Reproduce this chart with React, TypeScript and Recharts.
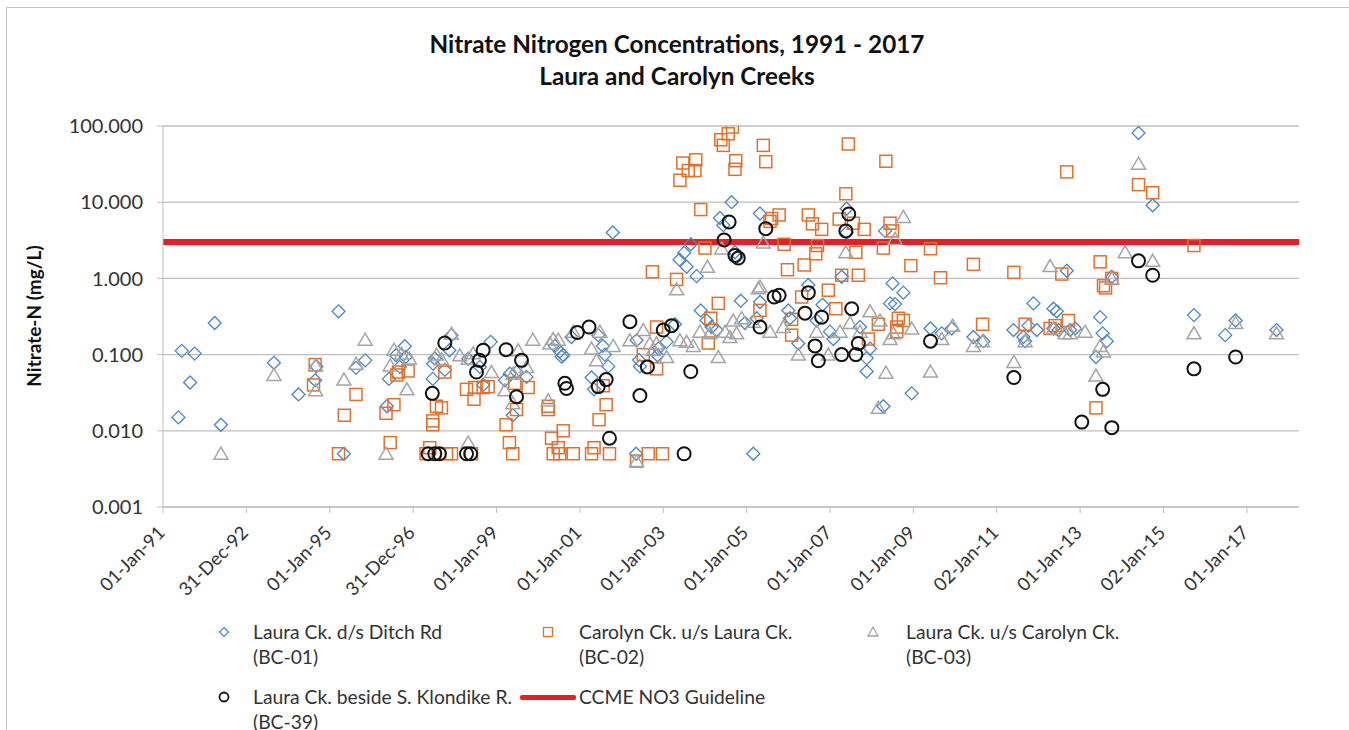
import { ScatterChart, Scatter, XAxis, YAxis, CartesianGrid, ReferenceLine } from 'recharts';

const xTicks = [1991, 1993, 1995, 1997, 1999, 2001, 2003, 2005, 2007, 2009, 2011, 2013, 2015, 2017];
const xTickLabels = ['01-Jan-91', '31-Dec-92', '01-Jan-95', '31-Dec-96', '01-Jan-99', '01-Jan-01', '01-Jan-03',
    '01-Jan-05', '01-Jan-07', '01-Jan-09', '02-Jan-11', '01-Jan-13', '02-Jan-15', '01-Jan-17'];
const yTicks = [0.001, 0.01, 0.1, 1, 10, 100];
const ccmeGuideline = 3.0;

// [decimal year, nitrate-N mg/L]
const bc01: [number, number][] = [
    [1991.37, 0.015], [1991.45, 0.112], [1991.65, 0.043], [1991.76, 0.103], [1992.24, 0.26], [1992.39, 0.012],
    [1993.66, 0.078], [1994.25, 0.03], [1994.65, 0.046], [1994.68, 0.07], [1995.21, 0.37], [1995.34, 0.005],
    [1995.63, 0.067], [1995.85, 0.084], [1996.37, 0.021], [1996.42, 0.048], [1996.8, 0.129], [1996.59, 0.098],
    [1996.82, 0.093], [1996.68, 0.069], [1997.48, 0.076], [1997.52, 0.089], [1997.47, 0.048], [1997.76, 0.063],
    [1997.87, 0.114], [1997.92, 0.18], [1998.32, 0.088], [1998.86, 0.147], [1998.6, 0.069], [1998.68, 0.04],
    [1999.39, 0.016], [1999.32, 0.056], [1999.2, 0.046], [1999.48, 0.059], [1999.72, 0.051], [2000.4, 0.13],
    [2000.52, 0.11], [2000.6, 0.098], [2000.56, 0.094], [2000.8, 0.17], [2001.44, 0.18], [2001.55, 0.13],
    [2001.6, 0.1], [2001.68, 0.07], [2001.28, 0.05], [2001.34, 0.035], [2001.79, 4.0], [2003.66, 2.8],
    [2003.5, 2.16], [2003.39, 1.76], [2003.56, 1.42], [2003.8, 1.07], [2004.64, 10], [2004.36, 6.2],
    [2004.44, 5.0], [2004.72, 2.2], [2004.76, 1.9], [2004.86, 0.51], [2003.9, 0.38], [2002.36, 0.154],
    [2002.44, 0.07], [2002.35, 0.005], [2002.86, 0.098], [2003.08, 0.147], [2003.28, 0.25], [2004.04, 0.28],
    [2004.16, 0.23], [2004.28, 0.21], [2004.96, 0.26], [2005.24, 0.3], [2005.16, 0.005], [2002.42, 0.085],
    [2002.88, 0.12], [2005.32, 7.1], [2007.4, 8.2], [2007.4, 4.0], [2008.32, 4.2], [2007.28, 1.05],
    [2008.5, 0.86], [2008.44, 0.47], [2008.56, 0.46], [2005.32, 0.49], [2006.48, 0.82], [2006.82, 0.45],
    [2006.0, 0.38], [2006.24, 0.14], [2007.88, 0.09], [2007.96, 0.12], [2007.88, 0.06], [2008.28, 0.021],
    [2007.08, 0.16], [2007.0, 0.2], [2006.04, 0.3], [2006.68, 0.28], [2007.72, 0.23],
    [2008.76, 0.65], [2009.41, 0.22], [2009.68, 0.19], [2009.92, 0.22], [2010.44, 0.17], [2010.68, 0.15],
    [2011.4, 0.21], [2011.64, 0.17], [2011.68, 0.15], [2011.76, 0.24], [2011.96, 0.21], [2011.88, 0.47],
    [2012.36, 0.4], [2012.44, 0.37], [2008.96, 0.031], [2012.68, 1.26], [2012.36, 0.22], [2012.48, 0.21],
    [2014.4, 81], [2014.74, 9.1], [2013.48, 0.31], [2013.54, 0.19], [2013.64, 0.15], [2013.38, 0.093],
    [2013.76, 1.05], [2015.73, 0.33], [2016.73, 0.28], [2016.48, 0.18], [2017.71, 0.21], [2012.76, 0.21],
    [2012.88, 0.22],
];

const bc02: [number, number][] = [
    [1994.65, 0.074], [1994.61, 0.04], [1995.21, 0.005], [1995.63, 0.03], [1995.35, 0.016], [1996.45, 0.007],
    [1996.35, 0.017], [1996.54, 0.022], [1996.65, 0.059], [1996.88, 0.061], [1996.61, 0.054], [1997.76, 0.059],
    [1997.56, 0.021], [1997.68, 0.02], [1997.47, 0.0135], [1997.47, 0.012], [1997.31, 0.005], [1997.4, 0.006],
    [1997.8, 0.005], [1997.92, 0.005], [1998.4, 0.005], [1998.28, 0.035], [1998.48, 0.037], [1998.46, 0.026],
    [1998.68, 0.037], [1998.8, 0.038], [1999.31, 0.007], [1999.39, 0.005], [1999.23, 0.012], [1999.48, 0.019],
    [1999.44, 0.042], [1999.76, 0.037], [2000.24, 0.021], [2000.24, 0.019], [2000.32, 0.008], [2000.48, 0.006],
    [2000.6, 0.01], [2000.36, 0.005], [2000.52, 0.005], [2000.84, 0.005], [2001.56, 0.039], [2001.63, 0.022],
    [2001.46, 0.014], [2001.34, 0.006], [2001.28, 0.005], [2001.71, 0.005], [2003.4, 19.4], [2003.47, 32.7],
    [2003.6, 26], [2003.78, 36], [2003.76, 26], [2004.44, 55.7], [2004.38, 66], [2004.56, 79], [2004.66, 97],
    [2004.74, 35], [2004.72, 27], [2003.9, 8.0], [2004.0, 2.5], [2002.74, 1.22], [2003.32, 0.97],
    [2004.32, 0.47], [2004.14, 0.3], [2002.84, 0.23], [2002.52, 0.1], [2002.84, 0.065], [2002.64, 0.005],
    [2002.98, 0.005], [2002.36, 0.004], [2004.08, 0.142], [2005.4, 55.7], [2005.46, 34], [2007.44, 58],
    [2008.34, 34.5], [2007.38, 12.9], [2005.78, 6.8], [2005.6, 6.1], [2005.56, 5.6], [2006.48, 6.8],
    [2006.58, 5.2], [2006.8, 4.4], [2007.22, 6.0], [2007.56, 5.3], [2007.82, 4.4], [2008.44, 5.3],
    [2008.5, 4.2], [2005.9, 2.8], [2006.7, 2.7], [2006.66, 2.1], [2007.62, 2.2], [2008.28, 2.5],
    [2005.98, 1.3], [2006.38, 1.5], [2007.28, 1.1], [2007.68, 1.1], [2006.96, 0.7], [2007.14, 0.4],
    [2006.32, 0.57], [2005.32, 0.38], [2006.08, 0.29], [2006.08, 0.18], [2007.92, 0.16], [2008.16, 0.25],
    [2008.6, 0.2], [2008.64, 0.3], [2012.68, 25], [2009.41, 2.45], [2008.94, 1.47], [2009.65, 1.02],
    [2010.44, 1.53], [2011.41, 1.2], [2012.56, 1.14], [2008.76, 0.28], [2008.6, 0.23], [2010.66, 0.25],
    [2011.68, 0.25], [2012.28, 0.22], [2012.4, 0.24], [2014.4, 17], [2014.74, 13.3], [2015.73, 2.7],
    [2013.48, 1.65], [2013.56, 0.8], [2013.61, 0.75], [2013.76, 1.0], [2013.38, 0.02], [2012.72, 0.28],
];

const bc03: [number, number][] = [
    [1992.39, 0.005], [1993.66, 0.054], [1994.66, 0.072], [1994.66, 0.034], [1995.85, 0.157], [1995.63, 0.076],
    [1995.34, 0.047], [1996.35, 0.005], [1996.85, 0.035], [1996.54, 0.116], [1996.72, 0.103], [1996.91, 0.089],
    [1996.45, 0.072], [1997.92, 0.188], [1998.12, 0.098], [1997.56, 0.1], [1997.68, 0.087], [1998.32, 0.007],
    [1998.32, 0.088], [1998.88, 0.059], [1998.44, 0.104], [1999.52, 0.114], [1999.72, 0.069], [1999.2, 0.034],
    [1999.39, 0.023], [1999.87, 0.157], [2000.24, 0.025], [2000.36, 0.16], [2000.48, 0.157], [2000.28, 0.14],
    [2000.84, 0.2], [2001.48, 0.2], [2001.28, 0.12], [2001.4, 0.084], [2001.8, 0.13], [1999.4, 0.056],
    [2003.32, 0.72], [2004.06, 1.42], [2004.4, 2.47], [2005.28, 0.74], [2002.52, 0.21], [2002.36, 0.004],
    [2002.68, 0.14], [2002.76, 0.115], [2003.08, 0.093], [2003.4, 0.154], [2003.56, 0.147], [2003.72, 0.13],
    [2003.88, 0.2], [2004.12, 0.19], [2004.32, 0.093], [2004.48, 0.2], [2004.68, 0.28], [2004.88, 0.3],
    [2004.6, 0.17], [2004.76, 0.19], [2002.2, 0.154], [2002.84, 0.14], [2005.4, 2.95], [2007.38, 2.2],
    [2005.32, 0.78], [2008.56, 3.3], [2008.34, 0.058], [2008.16, 0.02], [2006.24, 0.1], [2006.96, 0.1],
    [2007.96, 0.37], [2005.56, 0.2], [2005.88, 0.23], [2007.24, 0.2], [2007.48, 0.26], [2007.72, 0.2],
    [2008.44, 0.16], [2005.16, 0.27], [2006.68, 0.2], [2008.2, 0.28], [2008.76, 6.4], [2012.28, 1.45],
    [2008.52, 0.19], [2008.96, 0.22], [2009.41, 0.06], [2009.68, 0.16], [2009.94, 0.24], [2010.44, 0.13],
    [2010.66, 0.15], [2011.41, 0.08], [2011.68, 0.15], [2012.36, 0.22], [2012.64, 0.19], [2014.4, 32],
    [2014.08, 2.2], [2014.74, 1.7], [2013.76, 1.0], [2013.38, 0.053], [2013.56, 0.11], [2013.48, 0.13],
    [2015.73, 0.19], [2016.73, 0.26], [2017.71, 0.19], [2013.12, 0.2], [2012.76, 0.19],
];

const bc39: [number, number][] = [
    [1997.76, 0.142], [1997.46, 0.031], [1997.36, 0.005], [1997.52, 0.005], [1997.63, 0.005], [1998.28, 0.005],
    [1998.38, 0.005], [1998.68, 0.114], [1998.59, 0.084], [1998.52, 0.059], [1999.23, 0.116], [1999.6, 0.084],
    [1999.48, 0.028], [2000.64, 0.042], [2000.68, 0.036], [2000.94, 0.195], [2001.22, 0.23], [2001.63, 0.047],
    [2001.44, 0.038], [2001.71, 0.008], [2002.2, 0.27], [2003.0, 0.21], [2003.2, 0.24], [2002.62, 0.069],
    [2002.44, 0.029], [2003.66, 0.06], [2003.5, 0.005], [2004.58, 5.5], [2004.46, 3.2], [2004.72, 2.0],
    [2004.8, 1.85], [2005.46, 4.5], [2007.45, 7.0], [2007.38, 4.2], [2005.66, 0.57], [2005.78, 0.6],
    [2006.48, 0.65], [2006.4, 0.35], [2006.8, 0.31], [2007.52, 0.4], [2005.32, 0.23], [2006.64, 0.13],
    [2006.72, 0.083], [2007.28, 0.1], [2007.62, 0.1], [2007.68, 0.14], [2009.41, 0.15], [2011.41, 0.05],
    [2014.4, 1.7], [2014.74, 1.1], [2013.54, 0.035], [2013.04, 0.013], [2013.76, 0.011], [2015.73, 0.065],
    [2016.73, 0.093],
];

const BLUE = '#4a86c6';
const ORANGE = '#e2702b';
const GREY = '#a5a5a5';
const BLACK = '#111111';
const RED = '#ed1c24';
const FONT = 'Lato, "Open Sans", sans-serif';
const TEXT = '#333333';

const toPoints = (rows: [number, number][]) => rows.map(([x, y]) => ({ x, y }));

const Diamond = (props: any) => {
    const { cx, cy } = props;
    const r = 6.5;
    return <path d={`M${cx},${cy - r}L${cx + r},${cy}L${cx},${cy + r}L${cx - r},${cy}Z`} fill="none" stroke={BLUE} strokeWidth={1.3} />;
};

const Square = (props: any) => {
    const { cx, cy } = props;
    return <rect x={cx - 6} y={cy - 6} width={12} height={12} fill="none" stroke={ORANGE} strokeWidth={1.5} />;
};

const Triangle = (props: any) => {
    const { cx, cy } = props;
    return <path d={`M${cx},${cy - 6.5}L${cx + 7},${cy + 5.5}L${cx - 7},${cy + 5.5}Z`} fill="none" stroke={GREY} strokeWidth={1.5} />;
};

const Circle = (props: any) => {
    const { cx, cy } = props;
    return <circle cx={cx} cy={cy} r={6.5} fill="none" stroke={BLACK} strokeWidth={2} />;
};

const XTick = (props: any) => {
    const { x, y, payload } = props;
    const label = xTickLabels[xTicks.indexOf(payload.value)] ?? '';
    const ax = x + 3;
    const ay = y + 19;
    return (
        <text x={ax} y={ay} textAnchor="end" fontSize={18.5} fill={TEXT} fontFamily={FONT}
            transform={`rotate(-45, ${ax}, ${ay})`}>
            {label}
        </text>
    );
};

const YTick = (props: any) => {
    const { x, y, payload } = props;
    return (
        <text x={x} y={y} dy="0.36em" textAnchor="end" fontSize={20} fill={TEXT} fontFamily={FONT}>
            {Number(payload.value).toFixed(3)}
        </text>
    );
};

const legendText: React.CSSProperties = {
    position: 'absolute', fontFamily: FONT, fontSize: 19.3, lineHeight: '25px', color: TEXT, whiteSpace: 'nowrap',
};

const LegendMark = ({ left, top, children }: { left: number; top: number; children: React.ReactNode }) => (
    <svg style={{ position: 'absolute', left: left - 8, top: top - 8 }} width={16} height={16}>
        {children}
    </svg>
);

const App = () => {
    return (
        <div style={{ position: 'absolute', left: 0, top: 0, width: 1349, height: 730, overflow: 'hidden', background: '#fff' }}>
            <div style={{ position: 'absolute', left: 6, top: 7, width: 1400, height: 800, borderLeft: '1.5px solid #c4c4c4', borderTop: '1.5px solid #c4c4c4' }} />

            <div style={{ position: 'absolute', left: 0, top: 28, width: 1354, textAlign: 'center', fontFamily: FONT, fontWeight: 700, fontSize: 24.3, lineHeight: '32px', color: '#111' }}>
                Nitrate Nitrogen Concentrations, 1991 - 2017<br />Laura and Carolyn Creeks
            </div>

            <div style={{ position: 'absolute', left: 33, top: 316, transform: 'translate(-50%, -50%) rotate(-90deg)', fontFamily: FONT, fontWeight: 700, fontSize: 19, color: '#111', whiteSpace: 'nowrap' }}>
                Nitrate-N (mg/L)
            </div>

            <div style={{ position: 'absolute', left: 0, top: 0 }}>
                <ScatterChart width={1349} height={620} margin={{ top: 126, right: 50, bottom: 0, left: 0 }}>
                    <CartesianGrid vertical={false} stroke="#bfbfbf" strokeWidth={1.3} />
                    <XAxis type="number" dataKey="x" domain={[1991, 2018.25]} ticks={xTicks} interval={0}
                        height={113} stroke="#bfbfbf" tickSize={6} tick={<XTick />} allowDataOverflow />
                    <YAxis type="number" dataKey="y" scale="log" domain={[0.001, 100]} ticks={yTicks} interval={0}
                        width={163} stroke="#bfbfbf" tickSize={6} tickMargin={14} tick={<YTick />} allowDataOverflow />
                    <Scatter name="BC-01" data={toPoints(bc01)} shape={Diamond} isAnimationActive={false} />
                    <Scatter name="BC-02" data={toPoints(bc02)} shape={Square} isAnimationActive={false} />
                    <Scatter name="BC-03" data={toPoints(bc03)} shape={Triangle} isAnimationActive={false} />
                    <Scatter name="BC-39" data={toPoints(bc39)} shape={Circle} isAnimationActive={false} />
                    <ReferenceLine y={ccmeGuideline} stroke={RED} strokeWidth={6} />
                </ScatterChart>
            </div>

            <LegendMark left={224} top={632}>
                <path d="M8,3.5L12.5,8L8,12.5L3.5,8Z" fill="none" stroke={BLUE} strokeWidth={1.2} />
            </LegendMark>
            <div style={{ ...legendText, left: 253, top: 619 }}>Laura Ck. d/s Ditch Rd<br />(BC-01)</div>

            <LegendMark left={548} top={632}>
                <rect x={3.5} y={3.5} width={9} height={9} fill="none" stroke={ORANGE} strokeWidth={1.3} />
            </LegendMark>
            <div style={{ ...legendText, left: 579, top: 619 }}>Carolyn Ck. u/s Laura Ck.<br />(BC-02)</div>

            <LegendMark left={873} top={632}>
                <path d="M8,3L13,12L3,12Z" fill="none" stroke={GREY} strokeWidth={1.3} />
            </LegendMark>
            <div style={{ ...legendText, left: 906, top: 619 }}>Laura Ck. u/s Carolyn Ck.<br />(BC-03)</div>

            <LegendMark left={224} top={697}>
                <circle cx={8} cy={8} r={4.5} fill="none" stroke={BLACK} strokeWidth={1.8} />
            </LegendMark>
            <div style={{ ...legendText, left: 253, top: 684 }}>Laura Ck. beside S. Klondike R.<br />(BC-39)</div>

            <div style={{ position: 'absolute', left: 520, top: 694.5, width: 56, height: 5, background: RED, borderRadius: 2 }} />
            <div style={{ ...legendText, left: 579, top: 684 }}>CCME NO3 Guideline</div>
        </div>
    );
};

export default App;
